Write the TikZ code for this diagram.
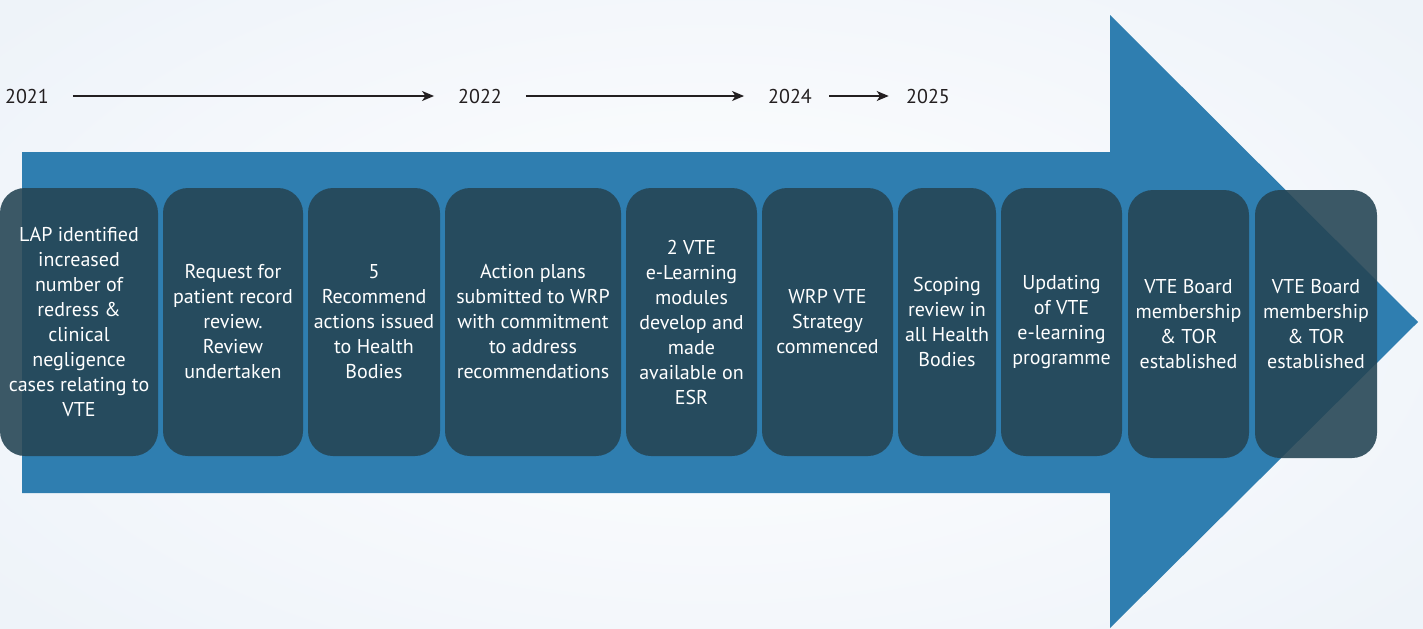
\documentclass[tikz,border=0pt]{standalone}
\usepackage{fontspec}
\setmainfont{PT Sans}
\usetikzlibrary{positioning,arrows.meta}

\definecolor{arrowblue}{RGB}{47,126,176}
\definecolor{stageslate}{RGB}{37,69,84}
\definecolor{yearink}{RGB}{35,31,32}
\definecolor{paperedge}{RGB}{238,243,249}

\tikzset{every picture/.style={line width=0.75pt}}
\tikzset{
  stage/.style={fill=stageslate, fill opacity=0.89, text opacity=1, text=white,
    rounded corners=18.75pt, inner sep=0pt, outer sep=0pt, minimum height=201pt, align=center,
    font=\fontsize{15}{18.75}\selectfont},
  year/.style={anchor=center, inner sep=0.75pt, text=yearink,
    font=\fontsize{15}{18}\selectfont},
  yearstep/.style={draw=yearink, line width=1pt, -{Stealth[length=9pt,width=7.5pt,inset=2.5pt]},
    shorten <=17pt, shorten >=17pt},
}

\begin{document}
\begin{tikzpicture}[x=0.75pt,y=0.75pt,yscale=-1,xscale=1]
				\useasboundingbox (0,0) rectangle (1423,628);
				%Shape: Background
				\shade [inner color=white, outer color=paperedge] (-200,-150) rectangle (1623,778);
				%Shape: Big Arrow [id:timeline]
				\fill [arrowblue] (22,152) -- (1110,152) -- (1110,15) -- (1418,322) -- (1110,628) -- (1110,493) -- (22,493) -- cycle ;

				% Year Nodes
				\node [year] (y21) at (27,96) {2021};
				\node [year] (y22) at (480,96) {2022};
				\node [year] (y24) at (790,96) {2024};
				\node [year] (y25) at (928,96) {2025};
				%Straight Lines
				\draw [yearstep] (y21) -- (y22);
				\draw [yearstep] (y22) -- (y24);
				\draw [yearstep, shorten <=12pt, shorten >=12pt] (y24) -- (y25);

				% Stage Boxes
				\node [stage, minimum width=118.5pt] (b1) at (79,322) {LAP identified\\increased\\number of\\redress \&\\clinical\\negligence\\cases relating to\\VTE};
				\node [stage, minimum width=105pt, right=3.75pt of b1] (b2) {Request for\\patient record\\review.\\Review\\undertaken};
				\node [stage, minimum width=99pt, right=3.75pt of b2] (b3) {5\\Recommend\\actions issued\\to Health\\Bodies};
				\node [stage, minimum width=132pt, right=3.75pt of b3] (b4) {Action plans\\submitted to WRP\\with commitment\\to address\\recommendations};
				\node [stage, minimum width=98.25pt, right=3.75pt of b4] (b5) {2 VTE\\e-Learning\\modules\\develop and\\made\\available on\\ESR};
				\node [stage, minimum width=98.25pt, right=3.75pt of b5] (b6) {WRP VTE\\Strategy\\commenced};
				\node [stage, minimum width=73.5pt, right=3.75pt of b6] (b7) {Scoping\\review in\\all Health\\Bodies};
				\node [stage, minimum width=90.75pt, right=3.75pt of b7] (b8) {Updating\\of VTE\\e-learning\\programme};
				\node [stage, minimum width=90.75pt, right=4.5pt of b8, yshift=-1.5pt] (b9) {VTE Board\\membership\\\& TOR\\established};
				\node [stage, minimum width=91.5pt, right=4.5pt of b9] (b10) {VTE Board\\membership\\\& TOR\\established};
\end{tikzpicture}
\end{document}
